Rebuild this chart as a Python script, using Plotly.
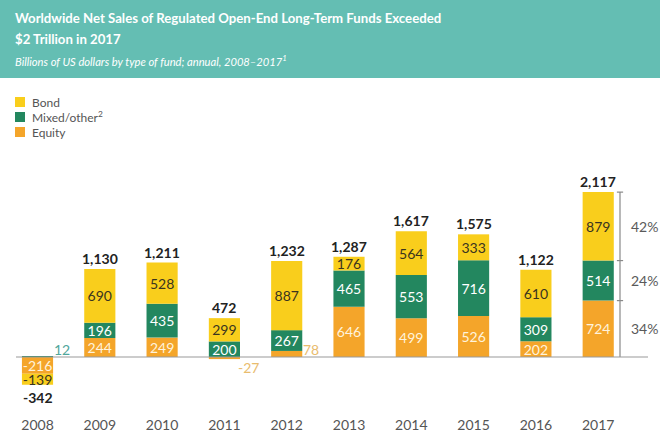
import plotly.graph_objects as go

years = ["2008", "2009", "2010", "2011", "2012", "2013", "2014", "2015", "2016", "2017"]
equity = [-216, 244, 249, -27, 78, 646, 499, 526, 202, 724]
mixed = [12, 196, 435, 200, 267, 465, 553, 716, 309, 514]
bond = [-139, 690, 528, 299, 887, 176, 564, 333, 610, 879]
totals = [-342, 1130, 1211, 472, 1232, 1287, 1617, 1575, 1122, 2117]

C_BOND = "#F9CE1C"
C_MIXED = "#23875F"
C_EQUITY = "#F4A52A"
FONT = "Lato, 'Open Sans', sans-serif"

SMALL = 100  # segments too thin for an inside label


def inside_text(vals):
    return [f"{v:,}" if abs(v) >= SMALL else "" for v in vals]


fig = go.Figure()
series = [
    ("Equity", equity, C_EQUITY, "#FFF3DC"),
    ("Mixed/other", mixed, C_MIXED, "#FFFFFF"),
    ("Bond", bond, C_BOND, "#3A3420"),
]
for name, vals, col, tcol in series:
    fig.add_trace(go.Bar(
        x=years, y=vals, name=name, marker=dict(color=col, line=dict(width=0)),
        width=0.5, text=inside_text(vals), textposition="inside",
        insidetextanchor="middle", textangle=0,
        textfont=dict(family=FONT, size=14, color=tcol),
        hoverinfo="skip", showlegend=False,
    ))

annotations = []
outside_cols = {"Equity": "#E9BC6E", "Mixed/other": "#4FA79C", "Bond": "#C9A820"}
for name, vals, col, tcol in series:
    for i, v in enumerate(vals):
        if abs(v) < SMALL:
            annotations.append(dict(
                x=i, y=0, xref="x", yref="y", text=f"{v:,}", showarrow=False,
                xshift=24, yshift=8 if v > 0 else -10, yanchor="middle",
                font=dict(family=FONT, size=14, color=outside_cols[name]),
            ))

for i, t in enumerate(totals):
    pos = sum(v for v in (equity[i], mixed[i], bond[i]) if v > 0)
    neg = sum(v for v in (equity[i], mixed[i], bond[i]) if v < 0)
    if t >= 0:
        annotations.append(dict(x=i, y=pos, xref="x", yref="y", text=f"<b>{t:,}</b>",
                                showarrow=False, yanchor="bottom", yshift=0,
                                font=dict(family=FONT, size=14, color="#222222")))
    else:
        annotations.append(dict(x=i, y=neg, xref="x", yref="y", text=f"<b>{t:,}</b>",
                                showarrow=False, yanchor="top", yshift=-2,
                                font=dict(family=FONT, size=14, color="#222222")))

last = len(years) - 1
tot_last = equity[last] + mixed[last] + bond[last]
bx = last + 0.35
bounds = [0, equity[last], equity[last] + mixed[last], tot_last]
shapes = []
shapes.append(dict(type="line", xref="x", yref="y", x0=bx, x1=bx, y0=0, y1=tot_last,
                   line=dict(color="#8A8A8A", width=1.2)))
for b in bounds[1:]:
    shapes.append(dict(type="line", xref="x", yref="y", x0=bx - 0.05, x1=bx + 0.05, y0=b, y1=b,
                       line=dict(color="#8A8A8A", width=1.2)))
for lo, hi, v in zip(bounds[:-1], bounds[1:], [equity[last], mixed[last], bond[last]]):
    annotations.append(dict(x=bx, y=(lo + hi) / 2, xref="x", yref="y",
                            text=f"{round(100 * v / tot_last)}%", showarrow=False,
                            xanchor="left", xshift=9,
                            font=dict(family=FONT, size=14, color="#5A5A5A")))

shapes.append(dict(type="line", xref="paper", yref="y", x0=16 / 660, x1=648 / 660, y0=0, y1=0,
                   line=dict(color="#9A9A9A", width=1.2)))

PH = 400.0
shapes.append(dict(type="rect", xref="paper", yref="paper", x0=0, x1=1, y0=1 - 78 / PH, y1=1.0,
                   fillcolor="#64BEB3", line=dict(width=0), layer="below"))
title_lines = [("<b>Worldwide Net Sales of Regulated Open-End Long-Term Funds Exceeded</b>", 18),
               ("<b>$2 Trillion in 2017</b>", 39)]
for txt, yc in title_lines:
    annotations.append(dict(xref="paper", yref="paper", x=13 / 660, y=1 - yc / PH, xanchor="left",
                            yanchor="middle", align="left", showarrow=False, text=txt,
                            font=dict(family=FONT, size=13.2, color="white")))
annotations.append(dict(xref="paper", yref="paper", x=13 / 660, y=1 - 61 / PH, xanchor="left",
                        yanchor="middle", align="left", showarrow=False,
                        text="<i>Billions of US dollars by type of fund; annual, 2008–2017<sup>1</sup></i>",
                        font=dict(family=FONT, size=11.2, color="white")))

leg = [("Bond", C_BOND, 102), ("Mixed/other<sup>2</sup>", C_MIXED, 117), ("Equity", C_EQUITY, 132)]
for label, col, yc in leg:
    shapes.append(dict(type="rect", xref="paper", yref="paper", x0=15 / 660, x1=25 / 660,
                       y0=1 - (yc + 5) / PH, y1=1 - (yc - 5) / PH, fillcolor=col, line=dict(width=0)))
    annotations.append(dict(xref="paper", yref="paper", x=30 / 660, y=1 - yc / PH, xanchor="left",
                            yanchor="middle", showarrow=False, text=label,
                            font=dict(family=FONT, size=12, color="#555555")))

x0 = -37.5 / 62.3
fig.update_layout(
    width=660, height=440, margin=dict(l=0, r=0, t=0, b=40),
    paper_bgcolor="white", plot_bgcolor="white",
    barmode="relative", bargap=0.5, showlegend=False,
    uniformtext=dict(minsize=14, mode="show"),
    xaxis=dict(range=[x0, x0 + 660 / 62.3], showgrid=False, zeroline=False, showline=False,
               ticks="outside", ticklen=12, tickcolor="rgba(0,0,0,0)",
               tickfont=dict(family=FONT, size=14, color="#555555"), fixedrange=True),
    yaxis=dict(range=[-43 * 12.84, 357 * 12.84], showgrid=False, zeroline=False,
               showticklabels=False, showline=False, fixedrange=True),
    shapes=shapes, annotations=annotations,
)

fig.write_html("out.html", config={"displayModeBar": False},
               post_script="document.body.style.margin='0';document.body.style.overflow='hidden';")
